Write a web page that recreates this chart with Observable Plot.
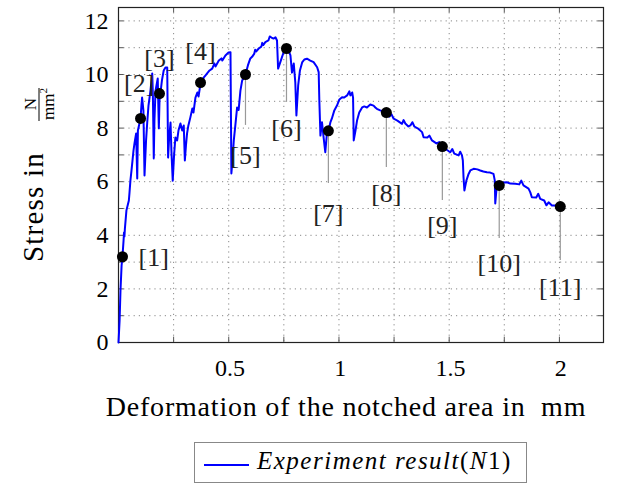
<!DOCTYPE html>
<html><head><meta charset="utf-8">
<script src="https://cdn.jsdelivr.net/npm/d3@7"></script>
<script src="https://cdn.jsdelivr.net/npm/@observablehq/plot@0.6"></script>
<style>
body{margin:0;background:#fff;}
#wrap{position:relative;width:632px;height:485px;font-family:'Liberation Serif','Times New Roman',serif;background:#fff;overflow:hidden}
#legend{position:absolute;left:194px;top:442px;width:333px;height:41px;border:1px solid #888;box-sizing:border-box;background:#fff}
#legend .sw{position:absolute;left:9px;top:21px;width:45px;height:0;border-top:2px solid #0000ff}
#legend .tx{position:absolute;left:62px;top:4px;font-size:25px;letter-spacing:1.5px;font-style:italic;white-space:nowrap;color:#000;font-family:'Liberation Serif','Times New Roman',serif}
#legend .up{font-style:normal}
</style></head><body>
<div id="wrap"><div id="chart"></div>
<div id="legend"><div class="sw"></div><div class="tx">Experiment result<span class="up">(</span>N<span class="up">1)</span></div></div>
</div>
<script>
// Measured curve: deformation (mm) and stress (N/mm^2)
const curveX = [0,0.005,0.009,0.014,0.018,0.023,0.025,0.027,0.029,0.036,0.047,0.050,0.054,0.059,0.068,0.073,0.080,0.085,0.088,0.093,0.100,0.104,0.107,0.113,0.118,0.125,0.130,0.136,0.145,0.153,0.156,0.160,0.163,0.168,0.178,0.183,0.186,0.190,0.197,0.205,0.213,0.221,0.225,0.229,0.236,0.240,0.246,0.252,0.258,0.266,0.272,0.281,0.289,0.296,0.301,0.306,0.311,0.317,0.326,0.335,0.340,0.349,0.358,0.363,0.372,0.387,0.394,0.402,0.413,0.425,0.435,0.440,0.455,0.467,0.471,0.485,0.499,0.508,0.512,0.517,0.523,0.530,0.538,0.545,0.553,0.561,0.576,0.587,0.598,0.606,0.616,0.620,0.625,0.636,0.648,0.652,0.657,0.666,0.680,0.686,0.694,0.703,0.712,0.719,0.724,0.734,0.749,0.762,0.771,0.780,0.787,0.795,0.802,0.807,0.815,0.823,0.833,0.843,0.855,0.870,0.885,0.901,0.908,0.911,0.916,0.923,0.931,0.938,0.946,0.953,0.961,0.968,0.979,0.991,1.002,1.014,1.024,1.037,1.047,1.052,1.060,1.064,1.067,1.075,1.082,1.092,1.105,1.115,1.127,1.142,1.157,1.165,1.172,1.187,1.201,1.214,1.229,1.238,1.248,1.265,1.286,1.293,1.301,1.315,1.324,1.333,1.342,1.361,1.377,1.384,1.401,1.410,1.422,1.442,1.455,1.470,1.487,1.505,1.514,1.523,1.543,1.550,1.558,1.562,1.565,1.569,1.578,1.588,1.596,1.611,1.628,1.641,1.655,1.671,1.686,1.701,1.707,1.709,1.714,1.718,1.732,1.745,1.762,1.777,1.800,1.818,1.827,1.837,1.860,1.868,1.875,1.895,1.904,1.913,1.931,1.941,1.951,1.966,1.981,2.004];
const curveY = [0,0.82,1.94,2.87,3.21,3.81,4.10,3.96,4.25,4.93,5.30,5.60,6.04,6.42,7.16,7.46,7.80,6.12,7.91,8.10,8.36,8.84,9.14,8.66,6.23,7.54,8.17,8.84,9.40,10.04,9.22,6.87,8.28,9.40,9.85,7.99,9.03,9.29,9.78,10.15,10.26,10.26,6.90,7.54,8.21,7.16,6.04,6.98,7.65,7.54,7.91,8.17,7.91,8.10,6.79,7.35,7.80,8.10,8.40,8.73,8.58,9.14,9.33,9.18,9.66,9.89,9.96,10.04,10.15,10.22,10.41,10.30,10.52,10.60,10.52,10.71,10.82,10.83,6.31,6.79,7.54,8.10,8.77,8.68,9.40,9.78,10.00,10.34,10.60,10.66,10.78,10.92,10.86,10.97,11.04,11.18,11.10,11.21,11.27,11.42,11.38,11.34,11.39,11.27,10.22,10.46,10.83,10.96,10.90,10.71,10.07,10.41,9.70,8.47,9.59,10.15,10.45,10.56,10.59,10.52,10.46,10.27,10.09,9.03,7.72,8.22,7.61,7.10,7.85,7.91,8.21,8.36,8.66,8.84,9.07,9.15,9.14,9.22,9.37,9.22,9.33,9.14,7.54,7.91,8.28,8.58,8.77,8.81,8.77,8.88,8.84,8.77,8.72,8.66,8.62,8.56,8.43,8.52,8.35,8.28,8.16,8.30,8.17,8.06,8.10,8.22,8.06,7.97,7.85,7.66,7.65,7.72,7.54,7.43,7.48,7.29,7.20,7.10,7.22,7.05,6.98,7.12,6.98,6.79,6.17,5.67,6.04,6.29,6.42,6.48,6.46,6.42,6.38,6.35,6.34,6.29,6.04,5.19,5.67,5.86,5.86,5.97,5.98,5.93,5.92,5.90,6.04,5.86,5.74,5.60,5.42,5.41,5.55,5.36,5.30,5.12,5.23,5.11,5.11,5.05];

// Marked points [1]..[11]
const markerNames = ["[1]","[2]","[3]","[4]","[5]","[6]","[7]","[8]","[9]","[10]","[11]"];
const markerX = [0.018,0.100,0.186,0.372,0.576,0.762,0.952,1.215,1.469,1.727,2.004];
const markerY = [3.2,8.36,9.29,9.70,10.00,10.97,7.90,8.58,7.31,5.86,5.07];
const labelX  = [0.160,0.094,0.186,0.372,0.576,0.762,0.952,1.215,1.469,1.727,2.004];
const labelY  = [3.17,9.66,10.60,10.85,6.98,7.99,4.81,5.56,4.37,2.95,2.05];
const leaderEnd = [null,null,null,null,8.10,8.96,5.93,6.53,5.30,3.88,3.06];

const xTickValues = [0.5,1,1.5,2];
const yTickValues = [0,2,4,6,8,10,12];
const xMinorValues = [0.25,0.5,0.75,1,1.25,1.5,1.75,2];
const yMinorValues = [1,2,3,4,5,6,7,8,9,10,11,12];

const n = Math.min(curveX.length, curveY.length);
const curve = curveX.slice(0, n).map((x,i)=>({x, y: curveY[i]}));
const markers = markerX.map((x,i)=>({x, y: markerY[i], name: markerNames[i], lx: labelX[i], ly: labelY[i], le: leaderEnd[i]}));
const leaders = markers.filter(d => d.le != null);

const serif = "'Liberation Serif', 'Times New Roman', serif";
const chart = Plot.plot({
  width: 632, height: 435,
  marginLeft: 118, marginRight: 29, marginTop: 7, marginBottom: 93,
  x: {domain: [0, 2.2]},
  y: {domain: [0, 12.5]},
  style: {fontFamily: serif, fontSize: "22px", background: "white", color: "black"},
  marks: [
    Plot.gridX(xMinorValues, {stroke: "#888", strokeOpacity: 1, strokeDasharray: "1.2,4"}),
    Plot.gridY(yMinorValues, {stroke: "#888", strokeOpacity: 1, strokeDasharray: "1.2,4"}),
    Plot.ruleX(xMinorValues, {y1: 0, y2: 0.2, stroke: "#555"}),
    Plot.ruleX(xMinorValues, {y1: 12.3, y2: 12.5, stroke: "#555"}),
    Plot.ruleY(yMinorValues, {x1: 0, x2: 0.025, stroke: "#555"}),
    Plot.ruleY(yMinorValues, {x1: 2.175, x2: 2.2, stroke: "#555"}),
    Plot.axisX(xTickValues, {tickSize: 0, tickPadding: 16, label: null, tickFormat: d => String(d), fontSize: 24, fontFamily: serif, dx: 1.3, style: "letter-spacing:2.6px"}),
    Plot.axisY(yTickValues, {tickSize: 0, tickPadding: 10, label: null, tickFormat: d => String(d), fontSize: 24, fontFamily: serif, style: "letter-spacing:1.5px"}),
    Plot.frame({stroke: "#222", strokeWidth: 1.2}),
    Plot.line(curve, {x: "x", y: "y", stroke: "#0000ff", strokeWidth: 2}),
    Plot.ruleX(leaders, {x: "x", y1: "y", y2: "le", stroke: "#999", strokeWidth: 1.2}),
    Plot.dot(markers, {x: "x", y: "y", r: 5.5, fill: "black"}),
    Plot.text(markers, {x: "lx", y: "ly", text: "name", fontSize: 26, fontFamily: serif, fill: "#222"})
  ]
});
document.getElementById("chart").appendChild(chart);

const svg = d3.select(chart);
svg.append("text")
  .attr("x", 346).attr("y", 416)
  .attr("text-anchor", "middle")
  .attr("font-size", 28).attr("letter-spacing", "0.8px")
  .attr("font-family", serif)
  .attr("fill", "black")
  .style("white-space", "pre")
  .text("Deformation of the notched area in  mm");

const g = svg.append("g").attr("transform", "rotate(-90)")
  .attr("font-family", serif).attr("fill", "black");
g.append("text").attr("x", -262).attr("y", 43).attr("text-anchor", "start")
  .attr("font-size", 29).attr("letter-spacing", "1.2px").text("Stress in");
g.append("line").attr("x1", -121).attr("x2", -88).attr("y1", 39).attr("y2", 39)
  .attr("stroke", "black").attr("stroke-width", 1);
g.append("text").attr("x", -104).attr("y", 36).attr("text-anchor", "middle")
  .attr("font-size", 17).text("N");
const den = g.append("text").attr("x", -104).attr("y", 54).attr("text-anchor", "middle")
  .attr("font-size", 17);
den.append("tspan").text("mm");
den.append("tspan").attr("font-size", 11).attr("dy", -7).text("2");
</script>
</body></html>
